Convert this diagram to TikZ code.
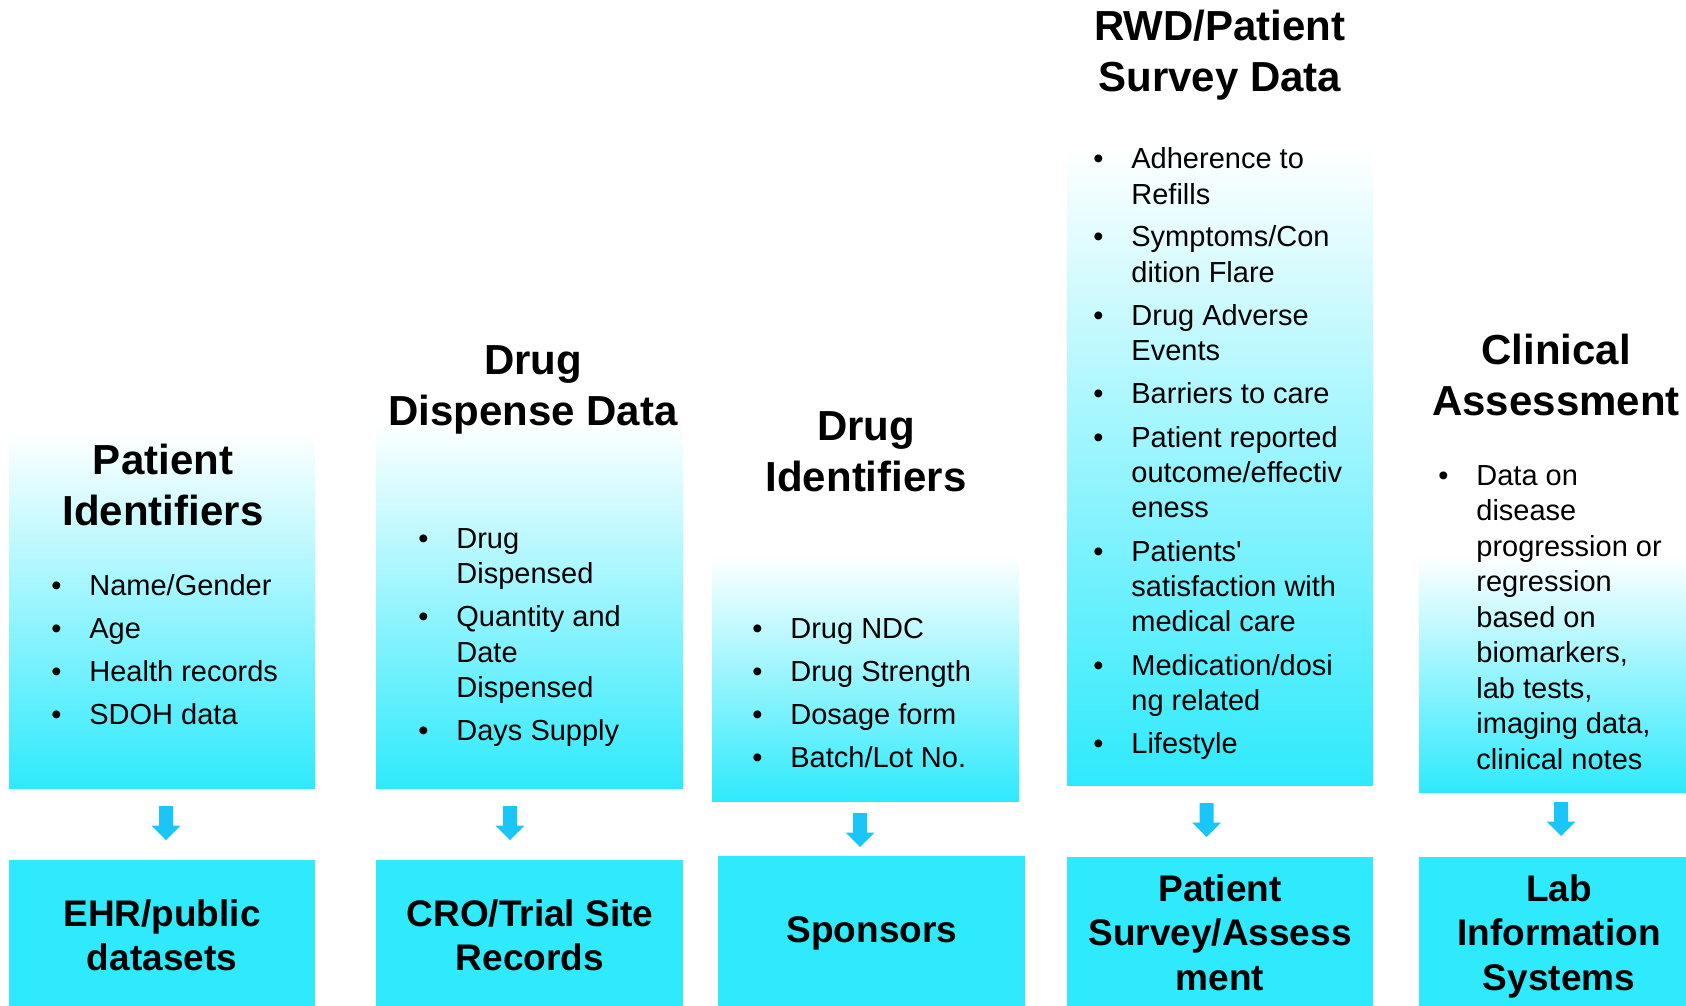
\documentclass[tikz,border=0pt]{standalone}
\usepackage{fontspec}
\setmainfont{Liberation Sans}
\usepackage{array}
\definecolor{boxcyan}{RGB}{46,234,252}
\definecolor{arrowblue}{RGB}{26,198,247}
\newcommand{\bl}{\makebox[19pt][l]{\textbullet}}
\begin{document}
\begin{tikzpicture}[x=0.5pt,y=-0.5pt,
  topbox/.style={rectangle, inner sep=0pt, outer sep=0pt, anchor=north west, top color=white, bottom color=boxcyan, shading angle=0},
  botbox/.style={rectangle, inner sep=0pt, outer sep=0pt, anchor=north west, fill=boxcyan},
  heading/.style={inner sep=0pt, anchor=base, font=\fontsize{21}{25.5}\selectfont\bfseries},
  bottext/.style={inner sep=0pt, anchor=base, font=\fontsize{18.5}{22.25}\selectfont\bfseries},
  listtext/.style={inner sep=0pt, anchor=base west, font=\fontsize{14.5}{17.75}\selectfont},
  dnarrow/.style={fill=arrowblue}
]
\useasboundingbox (0,0) rectangle (1686,1006);
% top boxes
\node[topbox, minimum width=153pt, minimum height=178pt] (t1) at (9,432) {};
\node[topbox, minimum width=153.5pt, minimum height=184pt] (t2) at (376,420) {};
\node[topbox, minimum width=153.5pt, minimum height=123pt] (t3) at (712,555) {};
\node[topbox, minimum width=153pt, minimum height=319pt] (t4) at (1067,147) {};
\node[topbox, minimum width=133.5pt, minimum height=118.5pt] (t5) at (1419,555) {};
% bottom boxes
\node[botbox, minimum width=153pt, minimum height=73pt] (b1) at (9,860) {};
\node[botbox, minimum width=153.5pt, minimum height=73pt] (b2) at (376,860) {};
\node[botbox, minimum width=153.5pt, minimum height=75pt] (b3) at (718,856) {};
\node[botbox, minimum width=153pt, minimum height=74.5pt] (b4) at (1067,857) {};
\node[botbox, minimum width=133.5pt, minimum height=74.5pt] (b5) at (1419,857) {};
% headings
\node[heading] (h1) at (163,474) {\begin{tabular}[t]{@{}c@{}}Patient\\Identifiers\end{tabular}};
\node[heading] (h2) at (533,374) {\begin{tabular}[t]{@{}c@{}}Drug\\Dispense Data\end{tabular}};
\node[heading] (h3) at (866,440.5) {\begin{tabular}[t]{@{}c@{}}Drug\\Identifiers\end{tabular}};
\node[heading] (h4) at (1220,41) {\begin{tabular}[t]{@{}c@{}}RWD/Patient\\Survey Data\end{tabular}};
\node[heading] (h5) at (1556,364) {\begin{tabular}[t]{@{}c@{}}Clinical\\Assessment\end{tabular}};
% lists
\node[listtext] (l1) at (51,595) {\begin{tabular}[t]{@{}l@{}l@{}}
\bl & Name/Gender\\[3.75pt]
\bl & Age\\[3.75pt]
\bl & Health records\\[3.75pt]
\bl & SDOH data
\end{tabular}};
\node[listtext] (l2) at (418,548) {\begin{tabular}[t]{@{}l@{}l@{}}
\bl & Drug\\
    & Dispensed\\[3.75pt]
\bl & Quantity and\\
    & Date\\
    & Dispensed\\[3.75pt]
\bl & Days Supply
\end{tabular}};
\node[listtext] (l3) at (752,638) {\begin{tabular}[t]{@{}l@{}l@{}}
\bl & Drug NDC\\[3.75pt]
\bl & Drug Strength\\[3.75pt]
\bl & Dosage form\\[3.75pt]
\bl & Batch/Lot No.
\end{tabular}};
\node[listtext] (l4) at (1093,168.5) {\begin{tabular}[t]{@{}l@{}l@{}}
\bl & Adherence to\\
    & Refills\\[3.75pt]
\bl & Symptoms/Con\\
    & dition Flare\\[3.75pt]
\bl & Drug Adverse\\
    & Events\\[3.75pt]
\bl & Barriers to care\\[3.75pt]
\bl & Patient reported\\
    & outcome/effectiv\\
    & eness\\[3.75pt]
\bl & Patients\textquotesingle\\
    & satisfaction with\\
    & medical care\\[3.75pt]
\bl & Medication/dosi\\
    & ng related\\[3.75pt]
\bl & Lifestyle
\end{tabular}};
\node[listtext] (l5) at (1438,485) {\begin{tabular}[t]{@{}l@{}l@{}}
\bl & Data on\\
    & disease\\
    & progression or\\
    & regression\\
    & based on\\
    & biomarkers,\\
    & lab tests,\\
    & imaging data,\\
    & clinical notes
\end{tabular}};
% bottom texts
\node[bottext] (s1) at (162,926) {\begin{tabular}[t]{@{}c@{}}EHR/public\\datasets\end{tabular}};
\node[bottext] (s2) at (530,926) {\begin{tabular}[t]{@{}c@{}}CRO/Trial Site\\Records\end{tabular}};
\node[bottext] (s3) at (872,942) {Sponsors};
\node[bottext] (s4) at (1220,901) {\begin{tabular}[t]{@{}c@{}}Patient\\Survey/Assess\\ment\end{tabular}};
\node[bottext] (s5) at (1559,901) {\begin{tabular}[t]{@{}c@{}}Lab\\Information\\Systems\end{tabular}};
% arrows
\coordinate (a1) at (166,806);
\coordinate (a2) at (510,806);
\coordinate (a3) at (860,813);
\coordinate (a4) at (1206.5,803);
\coordinate (a5) at (1561,802);
\foreach \a in {a1,a2,a3,a4,a5}{
  \fill[dnarrow] (\a) ++(-7,0) -- ++(14,0) -- ++(0,19.5) -- ++(7.5,0) -- ++(-14.5,14.5) -- ++(-14.5,-14.5) -- ++(7.5,0) -- cycle;
}
\end{tikzpicture}
\end{document}
